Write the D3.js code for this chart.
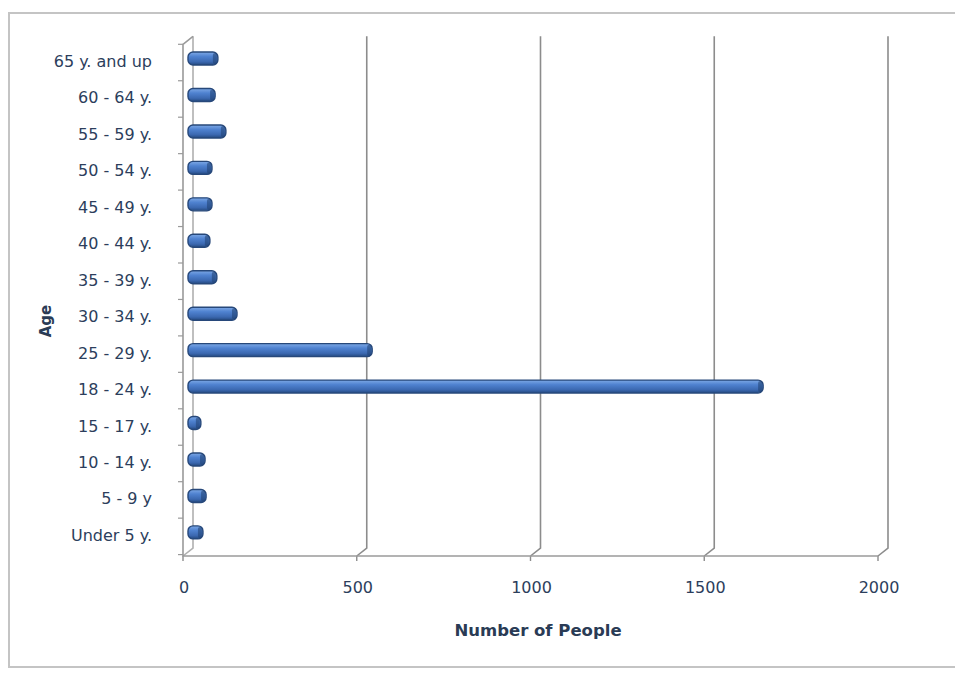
<!DOCTYPE html>
<html>
<head>
<meta charset="utf-8">
<script src="https://cdn.jsdelivr.net/npm/d3@7"></script>
<style>
  body { margin: 0; background: #fff; }
  text { font-family: "DejaVu Sans", Verdana, sans-serif; }
</style>
</head>
<body>
<svg id="chart" width="955" height="673"></svg>
<script>
// age groups, top of the chart first
const ages = ["65 y. and up", "60 - 64 y.", "55 - 59 y.", "50 - 54 y.", "45 - 49 y.",
              "40 - 44 y.", "35 - 39 y.", "30 - 34 y.", "25 - 29 y.", "18 - 24 y.",
              "15 - 17 y.", "10 - 14 y.", "5 - 9 y", "Under 5 y."];
const people = [86, 78, 109, 69, 69, 63, 83, 141, 530, 1655, 37, 49, 52, 43];
const xTicks = [0, 500, 1000, 1500, 2000];

const dx = 10, dy = -8;          // depth of the 3d box
const barH = 13;
const labelColor = "#2c3e5c";
const gridColor = "#8c8c8c";

const svg = d3.select("#chart");

// outer frame
svg.append("path").attr("d", "M 960 13 H 9 V 667 H 960")
   .attr("fill", "none").attr("stroke", "#c4c4c4").attr("stroke-width", 2);

const x = d3.scaleLinear().domain([0, 2000]).range([183, 878]);
const y = d3.scaleBand().domain(ages).range([44.3, 554.6]);
const y0 = y.range()[1] + 1.4;   // floor line (front)
const yTop = y.range()[0];

// gradient for the bars
const defs = svg.append("defs");
const grad = defs.append("linearGradient").attr("id", "barFill")
   .attr("x1", 0).attr("y1", 0).attr("x2", 0).attr("y2", 1);
grad.append("stop").attr("offset", "0%").attr("stop-color", "#7ea9e6");
grad.append("stop").attr("offset", "35%").attr("stop-color", "#4f82d0");
grad.append("stop").attr("offset", "75%").attr("stop-color", "#3b68b0");
grad.append("stop").attr("offset", "100%").attr("stop-color", "#24497f");

const g = svg.append("g");

// back wall gridlines, bent down to the front ticks
xTicks.forEach(function (t) {
   const xf = x(t), xb = x(t) + dx;
   g.append("path")
    .attr("d", "M " + xb + " " + (yTop + dy) + " V " + (y0 + dy) + " L " + xf + " " + y0)
    .attr("fill", "none").attr("stroke", t == 0 ? "#b0b0b0" : gridColor).attr("stroke-width", 1.6);
   g.append("line").attr("x1", xf).attr("x2", xf).attr("y1", y0).attr("y2", y0 + 5)
    .attr("stroke", gridColor).attr("stroke-width", 1.4);
   g.append("text").text(t).attr("x", xf + 1).attr("y", y0 + 37)
    .attr("text-anchor", "middle").attr("font-size", 16).attr("fill", labelColor);
});

// front axes
g.append("path")
 .attr("d", "M " + (x(0) + dx) + " " + (yTop + dy) + " L " + x(0) + " " + yTop + " V " + y0 + " H " + x(2000))
 .attr("fill", "none").attr("stroke", "#9a9a9a").attr("stroke-width", 1.6);

// category ticks
const bounds = ages.map(d => y(d)).concat([y.range()[1]]);
bounds.forEach(function (b) {
   g.append("line").attr("x1", x(0) - 5).attr("x2", x(0)).attr("y1", b).attr("y2", b)
    .attr("stroke", "#9a9a9a").attr("stroke-width", 1.2);
});

// category labels
g.selectAll("text.cat").data(ages).enter().append("text").attr("class", "cat")
 .text(d => d).attr("x", 152).attr("y", d => y(d) + y.bandwidth() / 2)
 .attr("dominant-baseline", "middle").attr("text-anchor", "end")
 .attr("font-size", 16).attr("fill", labelColor);

// bars sit in the middle of the depth
const bars = g.selectAll("g.bar").data(ages).enter().append("g").attr("class", "bar");
bars.append("rect")
 .attr("x", x(0) + dx / 2)
 .attr("y", d => y(d) + y.bandwidth() / 2 + dy / 2 - barH / 2)
 .attr("width", (d, i) => Math.max(x(people[i]) - x(0), 10))
 .attr("height", barH).attr("rx", 5)
 .attr("fill", "url(#barFill)").attr("stroke", "#27487a").attr("stroke-width", 1.4);
// darker end cap
bars.append("rect")
 .attr("x", (d, i) => x(0) + dx / 2 + Math.max(x(people[i]) - x(0), 10) - 5)
 .attr("y", d => y(d) + y.bandwidth() / 2 + dy / 2 - barH / 2 + 1)
 .attr("width", 4).attr("height", barH - 2).attr("rx", 2)
 .attr("fill", "#1f3f70").attr("opacity", 0.55);

// axis titles
svg.append("text").text("Number of People").attr("x", 538).attr("y", 636)
   .attr("text-anchor", "middle").attr("font-size", 16.5).attr("font-weight", "bold")
   .attr("fill", "#2a3b55");
svg.append("text").text("Age").attr("transform", "translate(51,321) rotate(-90)")
   .attr("text-anchor", "middle").attr("font-size", 15).attr("font-weight", "bold")
   .attr("fill", "#2a3b55");
</script>
</body>
</html>
